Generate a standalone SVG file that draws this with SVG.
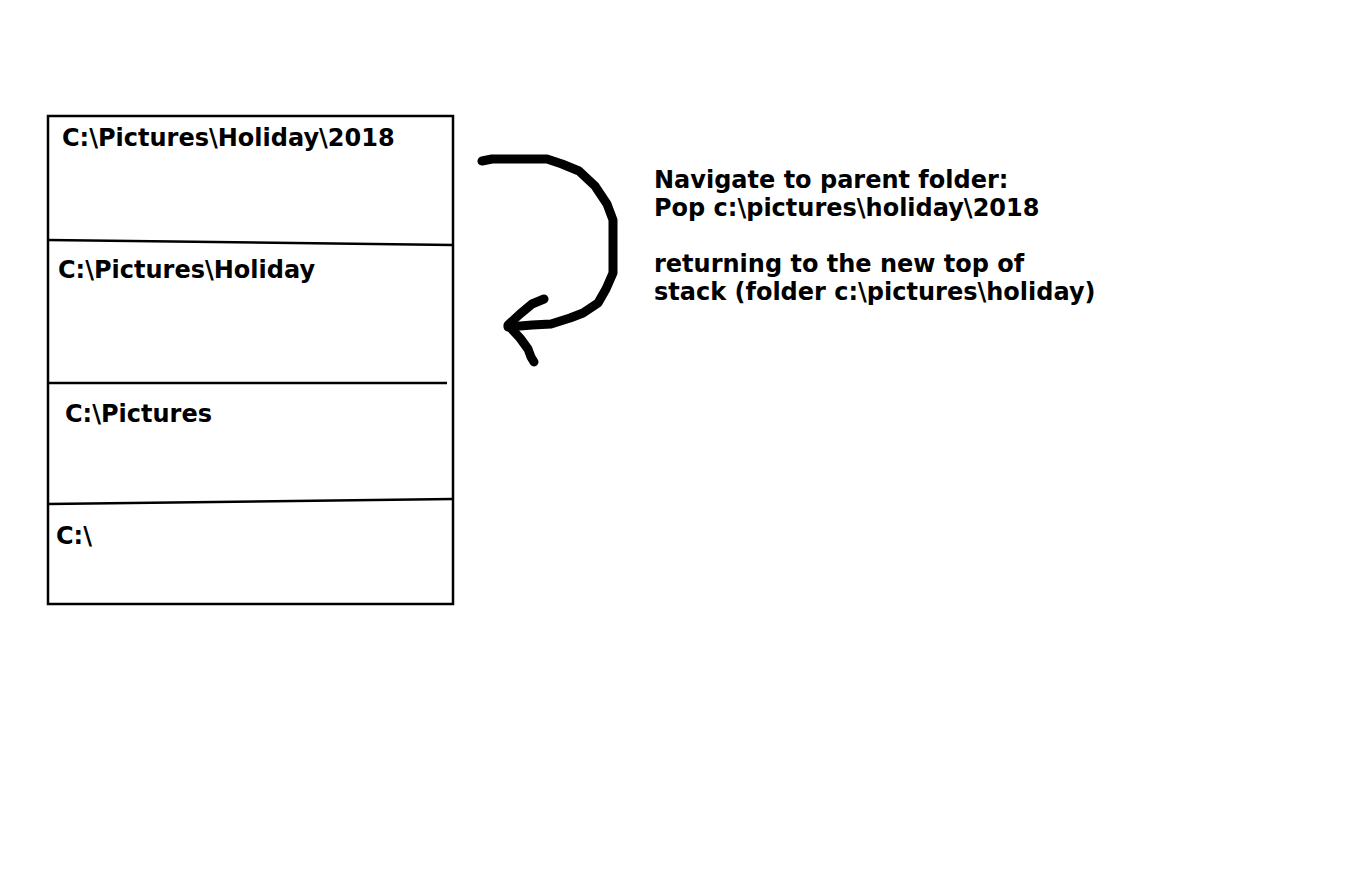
<svg xmlns="http://www.w3.org/2000/svg" width="1368" height="875" viewBox="0 0 1368 875">
<style>
.t{font-family:"DejaVu Sans",sans-serif;font-weight:bold;font-size:24px;fill:#000}
.ln{stroke:#000;stroke-width:2.5;fill:none}
.arr{stroke:#000;stroke-width:9;fill:none;stroke-linecap:round;stroke-linejoin:round}
</style>
<rect width="1368" height="875" fill="#fff"/>
<g id="stack">
<rect x="48" y="116" width="405" height="488" class="ln"/>
<line x1="48" y1="240" x2="453" y2="245" class="ln"/>
<line x1="48" y1="383" x2="447" y2="383" class="ln"/>
<line x1="48" y1="504" x2="453" y2="499" class="ln"/>
</g>
<g id="item1"><text class="t" x="62" y="146">C:\Pictures\Holiday\2018</text></g>
<g id="item2"><text class="t" x="58" y="278">C:\Pictures\Holiday</text></g>
<g id="item3"><text class="t" x="65" y="422">C:\Pictures</text></g>
<g id="item4"><text class="t" x="56" y="544">C:\</text></g>
<g id="connectors">
<path class="arr" d="M482,161 L492,159 L547,159 L562,164 L579,171 L595,186 L607,204 L613,220 L613,273 L606,289 L598,303 L583,313 L570,318 L551,324 L532,325 L508,327"/>
<path class="arr" d="M544,299 L532,304 L520,314 L508,325 L520,338 L528,349 L531,357 L534,362"/>
</g>
<g id="note">
<text class="t" x="654" y="188">Navigate to parent folder:</text>
<text class="t" x="654" y="216">Pop c:\pictures\holiday\2018</text>
<text class="t" x="654" y="272">returning to the new top of</text>
<text class="t" x="654" y="300">stack (folder c:\pictures\holiday)</text>
</g>
</svg>
